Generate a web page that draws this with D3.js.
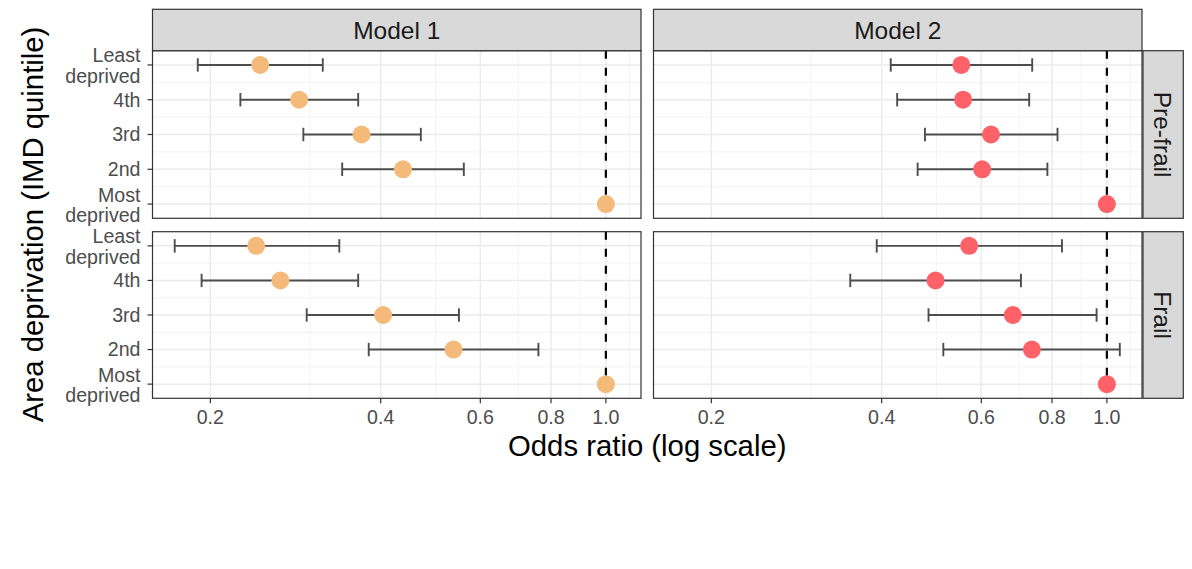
<!DOCTYPE html>
<html>
<head>
<meta charset="utf-8">
<script src="https://cdn.jsdelivr.net/npm/d3@7"></script>
<style>
  html, body { margin: 0; padding: 0; background: #fff; }
  svg { display: block; font-family: "Liberation Sans", Arial, Helvetica, sans-serif; }
</style>
</head>
<body>
<svg id="chart" width="1192" height="569"></svg>
<script>
// ---------- data ----------
const categories = ["Least deprived", "4th", "3rd", "2nd", "Most deprived"];
const categoryLabels = [["Least", "deprived"], ["4th"], ["3rd"], ["2nd"], ["Most", "deprived"]];
const models = ["Model 1", "Model 2"];
const frailty = ["Pre-frail", "Frail"];
const xTicks = [0.2, 0.4, 0.6, 0.8, 1.0];
const xTickLabels = ["0.2", "0.4", "0.6", "0.8", "1.0"];
const xMinor = [0.3, 0.5, 0.7, 0.9, 1.1];
const modelColors = ["#F3BA7A", "#FE6168"];

// Model 1
const m1PreOR    = [0.245, 0.287, 0.370, 0.438, 1.0];
const m1PreLo    = [0.190, 0.226, 0.292, 0.342, null];
const m1PreHi    = [0.316, 0.365, 0.471, 0.561, null];
const m1FrailOR  = [0.241, 0.266, 0.404, 0.538, 1.0];
const m1FrailLo  = [0.173, 0.193, 0.296, 0.381, null];
const m1FrailHi  = [0.338, 0.365, 0.550, 0.760, null];
// Model 2
const m2PreOR    = [0.553, 0.557, 0.624, 0.602, 1.0];
const m2PreLo    = [0.415, 0.426, 0.477, 0.463, null];
const m2PreHi    = [0.738, 0.729, 0.818, 0.785, null];
const m2FrailOR  = [0.571, 0.498, 0.682, 0.737, 1.0];
const m2FrailLo  = [0.392, 0.352, 0.484, 0.514, null];
const m2FrailHi  = [0.833, 0.705, 0.959, 1.054, null];

const panelsData = [
  { model: 0, row: 0, or: m1PreOR, lo: m1PreLo, hi: m1PreHi },
  { model: 0, row: 1, or: m1FrailOR, lo: m1FrailLo, hi: m1FrailHi },
  { model: 1, row: 0, or: m2PreOR, lo: m2PreLo, hi: m2PreHi },
  { model: 1, row: 1, or: m2FrailOR, lo: m2FrailLo, hi: m2FrailHi }
];

// ---------- layout ----------
const svg = d3.select("#chart");
svg.append("rect").attr("width", 1192).attr("height", 569).attr("fill", "#fff");

const colX = [[152.5, 641], [653.5, 1142]];
const rowY = [[50.7, 218.3], [231.7, 398.3]];
const stripTop = 9.3;
const stripRight = 1183.3;

// x domain: data range expanded 5% on log scale (like ggplot)
const allVals = [].concat(m1PreLo, m1PreHi, m1FrailLo, m1FrailHi, m2PreLo, m2PreHi, m2FrailLo, m2FrailHi,
  m1PreOR, m1FrailOR, m2PreOR, m2FrailOR).filter(v => v != null);
const lmin = Math.log(d3.min(allVals)), lmax = Math.log(d3.max(allVals));
const ex = (lmax - lmin) * 0.05;
const xDomain = [Math.exp(lmin - ex), Math.exp(lmax + ex)];

const font = "'Liberation Sans', Arial, Helvetica, sans-serif";
const tickSize = 19.6, stripSize = 24.5, titleSize = 29.3;

panelsData.forEach(p => {
  const [x0, x1] = colX[p.model];
  const [y0, y1] = rowY[p.row];
  const x = d3.scaleLog().domain(xDomain).range([x0, x1]);
  const y = d3.scalePoint().domain(categories).range([y0, y1]).padding(0.41);
  const g = svg.append("g");

  g.append("rect").attr("x", x0).attr("y", y0).attr("width", x1 - x0).attr("height", y1 - y0).attr("fill", "#fff");

  // minor grid
  xMinor.filter(v => v >= xDomain[0] && v <= xDomain[1]).forEach(v => {
    g.append("line").attr("x1", x(v)).attr("x2", x(v)).attr("y1", y0).attr("y2", y1)
      .attr("stroke", "#f0f0f0").attr("stroke-width", 0.8);
  });
  for (let i = 0; i < categories.length - 1; i++) {
    const ym = (y(categories[i]) + y(categories[i + 1])) / 2;
    g.append("line").attr("x1", x0).attr("x2", x1).attr("y1", ym).attr("y2", ym)
      .attr("stroke", "#f0f0f0").attr("stroke-width", 0.8);
  }
  // major grid
  xTicks.forEach(v => {
    g.append("line").attr("x1", x(v)).attr("x2", x(v)).attr("y1", y0).attr("y2", y1)
      .attr("stroke", "#ebebeb").attr("stroke-width", 1.5);
  });
  categories.forEach(c => {
    g.append("line").attr("x1", x0).attr("x2", x1).attr("y1", y(c)).attr("y2", y(c))
      .attr("stroke", "#ebebeb").attr("stroke-width", 1.5);
  });

  // reference line at OR = 1
  g.append("line").attr("x1", x(1)).attr("x2", x(1)).attr("y1", y0).attr("y2", y1)
    .attr("stroke", "#000").attr("stroke-width", 2.2).attr("stroke-dasharray", "8,9");

  // error bars
  const cap = 6.7;
  categories.forEach((c, i) => {
    if (p.lo[i] == null || p.hi[i] == null) return;
    const yy = y(c);
    const eb = g.append("g").attr("stroke", "#4d4d4d").attr("stroke-width", 1.9).attr("fill", "none");
    eb.append("line").attr("x1", x(p.lo[i])).attr("x2", x(p.hi[i])).attr("y1", yy).attr("y2", yy);
    eb.append("line").attr("x1", x(p.lo[i])).attr("x2", x(p.lo[i])).attr("y1", yy - cap).attr("y2", yy + cap);
    eb.append("line").attr("x1", x(p.hi[i])).attr("x2", x(p.hi[i])).attr("y1", yy - cap).attr("y2", yy + cap);
  });

  // points
  categories.forEach((c, i) => {
    g.append("circle").attr("cx", x(p.or[i])).attr("cy", y(c)).attr("r", 9)
      .attr("fill", modelColors[p.model]);
  });

  // panel border
  g.append("rect").attr("x", x0).attr("y", y0).attr("width", x1 - x0).attr("height", y1 - y0)
    .attr("fill", "none").attr("stroke", "#333").attr("stroke-width", 1.2);

  // y axis (left column only)
  if (p.model === 0) {
    categories.forEach((c, i) => {
      const yy = y(c);
      g.append("line").attr("x1", x0 - 5).attr("x2", x0).attr("y1", yy).attr("y2", yy)
        .attr("stroke", "#333").attr("stroke-width", 1.2);
      const lines = categoryLabels[i];
      const t = g.append("text").attr("text-anchor", "end").attr("fill", "#4d4d4d")
        .attr("font-size", tickSize).attr("font-family", font);
      if (lines.length === 1) {
        t.append("tspan").attr("x", x0 - 12).attr("y", yy + 6.8).text(lines[0]);
      } else {
        t.append("tspan").attr("x", x0 - 12).attr("y", yy - 2.5).text(lines[0]);
        t.append("tspan").attr("x", x0 - 12).attr("y", yy + 18).text(lines[1]);
      }
    });
  }
  // x axis (bottom row only)
  if (p.row === 1) {
    xTicks.forEach((v, i) => {
      g.append("line").attr("x1", x(v)).attr("x2", x(v)).attr("y1", y1).attr("y2", y1 + 5)
        .attr("stroke", "#333").attr("stroke-width", 1.2);
      g.append("text").attr("x", x(v)).attr("y", y1 + 26).attr("text-anchor", "middle")
        .attr("fill", "#4d4d4d").attr("font-size", tickSize).attr("font-family", font).text(xTickLabels[i]);
    });
  }
});

// top strips
models.forEach((m, i) => {
  const [x0, x1] = colX[i];
  svg.append("rect").attr("x", x0).attr("y", stripTop).attr("width", x1 - x0).attr("height", rowY[0][0] - stripTop)
    .attr("fill", "#d9d9d9").attr("stroke", "#333").attr("stroke-width", 1.2);
  svg.append("text").attr("x", (x0 + x1) / 2).attr("y", 39).attr("text-anchor", "middle")
    .attr("fill", "#1a1a1a").attr("font-size", stripSize).attr("font-family", font).text(m);
});
// right strips
frailty.forEach((f, j) => {
  const [y0, y1] = rowY[j];
  const sx0 = colX[1][1] + 1;
  svg.append("rect").attr("x", sx0).attr("y", y0).attr("width", stripRight - sx0).attr("height", y1 - y0)
    .attr("fill", "#d9d9d9").attr("stroke", "#333").attr("stroke-width", 1.2);
  const cx = (sx0 + stripRight) / 2, cy = (y0 + y1) / 2;
  svg.append("text").attr("transform", `translate(${cx},${cy}) rotate(90)`)
    .attr("text-anchor", "middle").attr("dy", "0.36em")
    .attr("fill", "#1a1a1a").attr("font-size", stripSize).attr("font-family", font).text(f);
});

// axis titles
svg.append("text").attr("x", (colX[0][0] + colX[1][1]) / 2).attr("y", 456).attr("text-anchor", "middle")
  .attr("fill", "#000").attr("font-size", titleSize).attr("font-family", font).text("Odds ratio (log scale)");
svg.append("text").attr("transform", `translate(43,${(rowY[0][0] + rowY[1][1]) / 2}) rotate(-90)`)
  .attr("text-anchor", "middle").attr("fill", "#000").attr("font-size", titleSize).attr("font-family", font)
  .text("Area deprivation (IMD quintile)");
</script>
</body>
</html>
